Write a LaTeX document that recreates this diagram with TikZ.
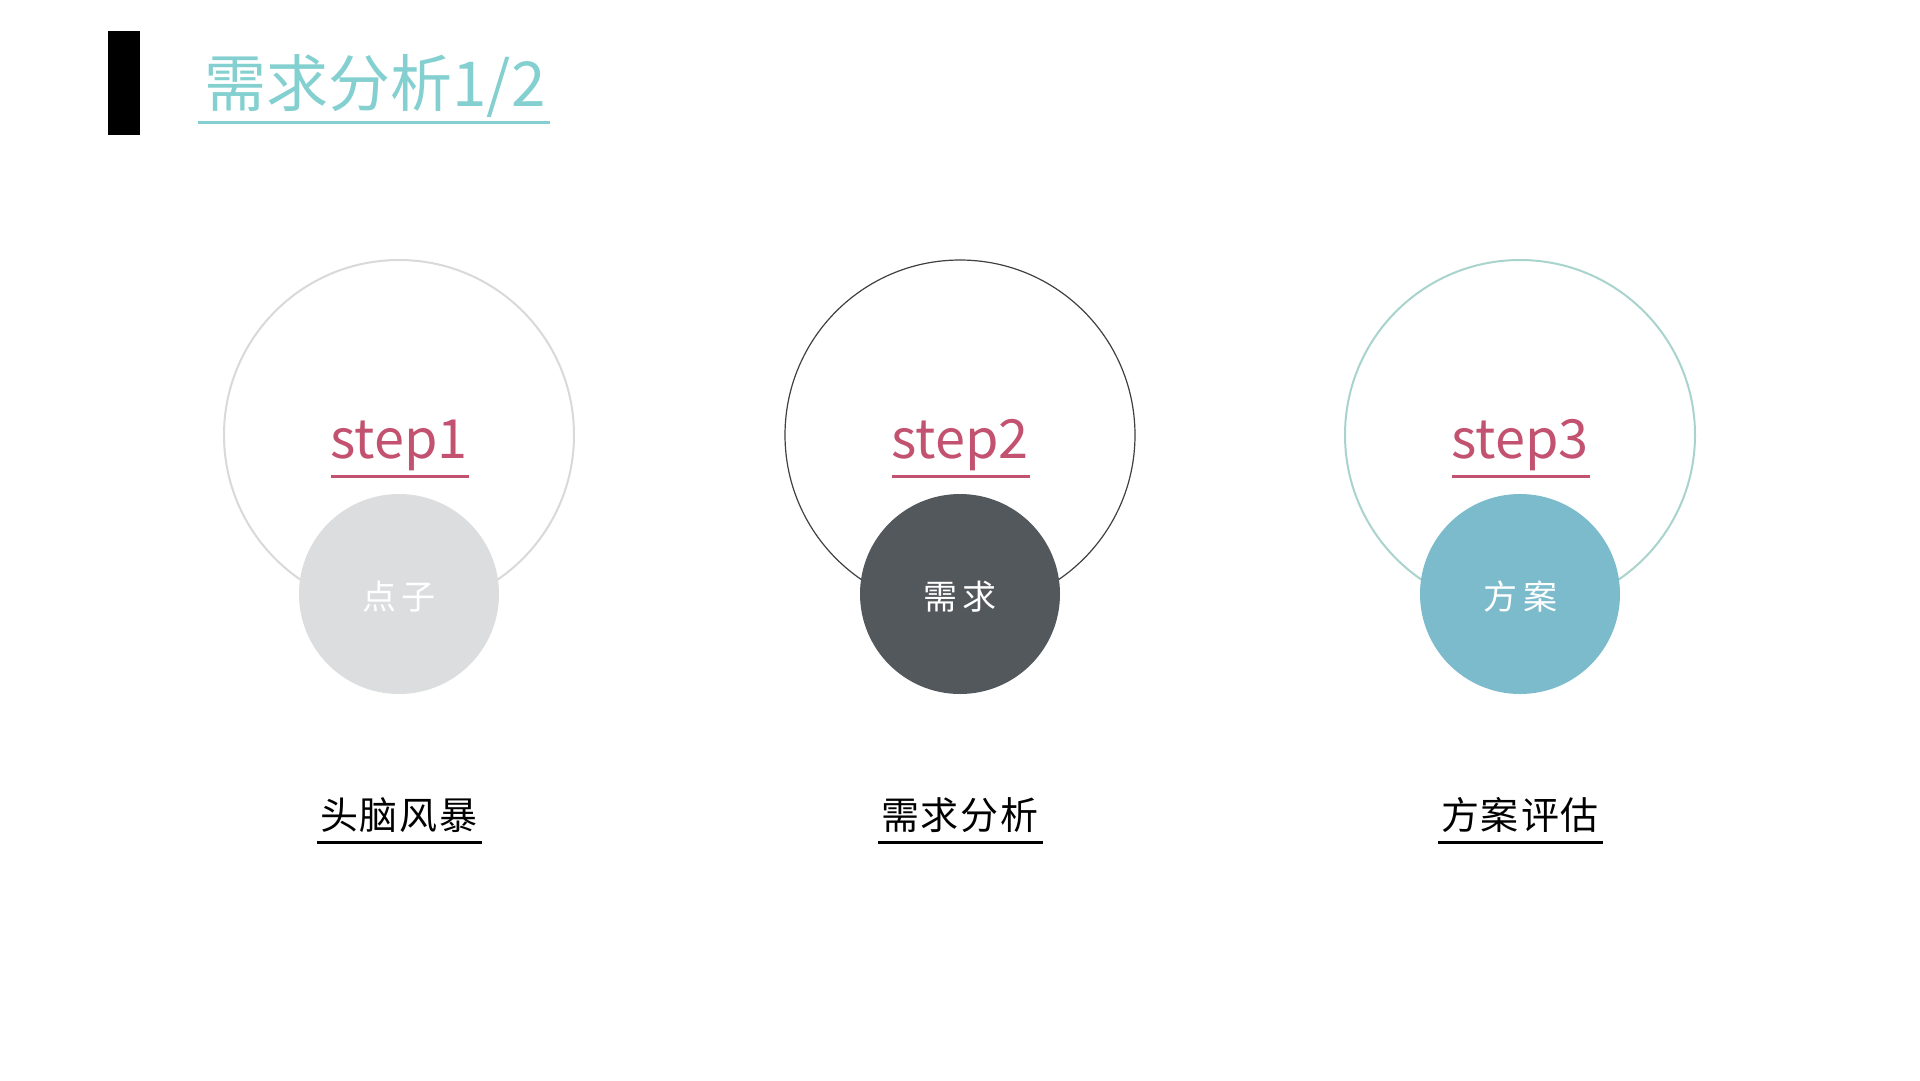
\documentclass[tikz,border=0pt]{standalone}
\usepackage{fontspec}
\setmainfont{Noto Sans CJK SC}
\definecolor{titleteal}{HTML}{84D0D0}
\definecolor{steppink}{HTML}{C2526F}
\definecolor{ringgray}{HTML}{D9D9D9}
\definecolor{ringdark}{HTML}{404040}
\definecolor{ringteal}{HTML}{A9D3CD}
\definecolor{fillgray}{HTML}{DCDDDE}
\definecolor{filldark}{HTML}{53585D}
\definecolor{fillblue}{HTML}{7BBBCC}
\tikzset{
  bigring/.style={circle, minimum size=350pt, inner sep=0pt, fill=white},
  smalldisc/.style={circle, minimum size=200pt, inner sep=0pt, text=white, font=\fontsize{34pt}{40pt}\selectfont},
  steplabel/.style={text=steppink, anchor=base, inner sep=0pt, font=\fontsize{54pt}{60pt}\selectfont},
  stepline/.style={draw=steppink, line width=3pt},
  namelabel/.style={text=black, inner sep=0pt, font=\fontsize{38pt}{44pt}\selectfont},
  nameline/.style={draw=black, line width=3pt}
}
\begin{document}
\begin{tikzpicture}[x=1pt,y=-1pt]
\useasboundingbox (0,0) rectangle (1920,1080);
\fill[white] (0,0) rectangle (1920,1080);
% title
\fill[black] (108,31) rectangle (140,135);
\node[text=titleteal, inner sep=0pt, font=\fontsize{62pt}{70pt}\selectfont] (title) at (375,86) {需求分析1/2};
\coordinate (tl) at (198,122);
\coordinate (tr) at (550,122);
\draw[draw=titleteal, line width=3pt] (tl) -- (tr);
% step 1
\node[bigring, draw=ringgray, line width=2pt] (ring1) at (399,435) {};
\node[steplabel] (step1) at (399,458) {step1};
\coordinate (s1l) at (331,476); \coordinate (s1r) at (469,476);
\draw[stepline] (s1l) -- (s1r);
\node[smalldisc, fill=fillgray] (disc1) at (399,594) {};
\node[text=white, inner sep=0pt, font=\fontsize{34pt}{40pt}\selectfont] (lab1) at (399,597) {点\hspace{6pt}子};
\node[namelabel] (name1) at (399,815) {头\hspace{2pt}脑\hspace{2pt}风\hspace{2pt}暴};
\coordinate (n1l) at (317,842); \coordinate (n1r) at (482,842);
\draw[nameline] (n1l) -- (n1r);
% step 2
\node[bigring, draw=ringdark, line width=1.2pt] (ring2) at (960,435) {};
\node[steplabel] (step2) at (960,458) {step2};
\coordinate (s2l) at (892,476); \coordinate (s2r) at (1030,476);
\draw[stepline] (s2l) -- (s2r);
\node[smalldisc, fill=filldark] (disc2) at (960,594) {};
\node[text=white, inner sep=0pt, font=\fontsize{34pt}{40pt}\selectfont] (lab2) at (960,597) {需\hspace{6pt}求};
\node[namelabel] (name2) at (960,815) {需\hspace{2pt}求\hspace{2pt}分\hspace{2pt}析};
\coordinate (n2l) at (878,842); \coordinate (n2r) at (1043,842);
\draw[nameline] (n2l) -- (n2r);
% step 3
\node[bigring, draw=ringteal, line width=2pt] (ring3) at (1520,435) {};
\node[steplabel] (step3) at (1520,458) {step3};
\coordinate (s3l) at (1452,476); \coordinate (s3r) at (1590,476);
\draw[stepline] (s3l) -- (s3r);
\node[smalldisc, fill=fillblue] (disc3) at (1520,594) {};
\node[text=white, inner sep=0pt, font=\fontsize{34pt}{40pt}\selectfont] (lab3) at (1520,597) {方\hspace{6pt}案};
\node[namelabel] (name3) at (1520,815) {方\hspace{2pt}案\hspace{2pt}评\hspace{2pt}估};
\coordinate (n3l) at (1438,842); \coordinate (n3r) at (1603,842);
\draw[nameline] (n3l) -- (n3r);
\end{tikzpicture}
\end{document}
